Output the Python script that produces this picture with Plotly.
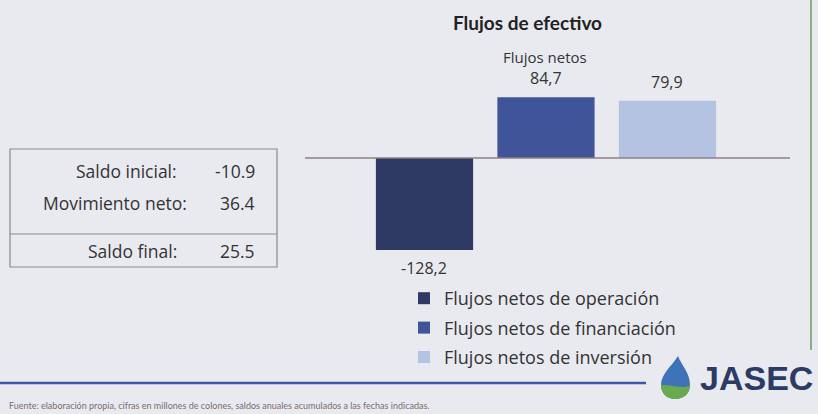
import plotly.graph_objects as go

W, H = 818, 414
BG = "#e9eaf0"
FONT = "'Open Sans', Lato, sans-serif"
TXT = "#333333"

# ---- data ----
categories = ["Flujos netos de operación", "Flujos netos de financiación", "Flujos netos de inversión"]
values = [-128.2, 84.7, 79.9]
colors = ["#2f3a64", "#40549a", "#b4c3e1"]

table_labels = ["Saldo inicial:", "Movimiento neto:", "Saldo final:"]
table_values = ["-10.9", "36.4", "25.5"]

title = "Flujos de efectivo"
subtitle = "Flujos netos"
footer = "Fuente: elaboración propia, cifras en millones de colones, saldos anuales acumulados a las fechas indicadas."
brand = "JASEC"


def px(x):
    return x / W


def py(y):
    return 1 - y / H


fig = go.Figure()
for cat, val, col in zip(categories, values, colors):
    fig.add_trace(go.Bar(
        x=[cat], y=[val], name=cat, marker=dict(color=col, line=dict(width=0)),
        legendgroup=cat, hoverinfo="x+y",
    ))

annotations = []
for cat, val in zip(categories, values):
    txt = f"{val:.1f}".replace(".", ",")
    annotations.append(dict(
        x=cat, y=val, xref="x", yref="y", text=txt, showarrow=False,
        xanchor="center", borderpad=0,
        yanchor="bottom" if val >= 0 else "top", yshift=7 if val >= 0 else -6,
        font=dict(family=FONT, size=16, color=TXT),
    ))


def txt_ann(x, y, text, size, xanchor="center", color=TXT, family=FONT):
    return dict(x=px(x), y=py(y), xref="paper", yref="paper", text=text, showarrow=False,
                xanchor=xanchor, yanchor="middle", borderpad=0,
                font=dict(family=family, size=size, color=color))


annotations.append(txt_ann(527, 22, f"<b>{title}</b>", 19, color="#222222",
                           family="Lato, 'Open Sans', sans-serif"))
annotations.append(txt_ann(545, 57, subtitle, 15))

# table
row_y = [171, 203, 251]
label_right = [178, 188, 178]
for lab, val, yy, lr in zip(table_labels, table_values, row_y, label_right):
    annotations.append(txt_ann(lr, yy, lab, 17.5, xanchor="right"))
    annotations.append(txt_ann(256, yy, val, 17.5, xanchor="right"))

# footer
annotations.append(txt_ann(8, 405, footer, 9, xanchor="left", color="#7a6e6a",
                           family="Lato, 'Open Sans', sans-serif"))
# brand
annotations.append(txt_ann(699, 378, f"<b>{brand}</b>", 34, xanchor="left", color="#2c3a66",
                           family="Liberation Sans, Arial, sans-serif"))

shapes = [
    dict(type="line", xref="paper", yref="y", x0=px(305), x1=px(790), y0=0, y1=0,
         line=dict(color="#8c8183", width=1.5)),
    dict(type="rect", xref="paper", yref="paper", x0=px(10), x1=px(277), y0=py(149), y1=py(267),
         line=dict(color="#8a8a8a", width=1.2), fillcolor="rgba(0,0,0,0)"),
    dict(type="line", xref="paper", yref="paper", x0=px(10), x1=px(277), y0=py(234), y1=py(234),
         line=dict(color="#8a8a8a", width=1.2)),
    dict(type="line", xref="paper", yref="paper", x0=px(811), x1=px(811), y0=py(0), y1=py(350),
         line=dict(color="#6c9a5c", width=1.5)),
    dict(type="line", xref="paper", yref="paper", x0=px(0), x1=px(646), y0=py(383), y1=py(383),
         line=dict(color="#3b58a5", width=2.5)),
]


def pth(points):
    s = ""
    for cmd, pts in points:
        s += cmd + " " + " ".join(f"{px(x):.5f},{py(y):.5f}" for x, y in pts) + " "
    return s + "Z"


drop = pth([("M", [(678, 356)]),
            ("C", [(671, 367), (661, 374), (661, 385)]),
            ("C", [(661, 394), (668, 399), (675, 399)]),
            ("C", [(683, 399), (690, 394), (690, 385)]),
            ("C", [(690, 373), (682, 366), (678, 356)])])
shapes.append(dict(type="path", xref="paper", yref="paper", path=drop,
                   fillcolor="#3f73b8", line=dict(width=0)))
green = pth([("M", [(661, 385)]),
             ("C", [(661, 394), (668, 399), (675, 399)]),
             ("C", [(683, 399), (690, 394), (690, 385)]),
             ("C", [(684, 390), (670, 384), (661, 385)])])
shapes.append(dict(type="path", xref="paper", yref="paper", path=green,
                   fillcolor="#6aaa4e", line=dict(width=0)))
bolt = pth([("M", [(679, 371)]), ("L", [(670, 384), (675, 384), (672, 394), (682, 380), (677, 380), (679, 371)])])
shapes.append(dict(type="path", xref="paper", yref="paper", path=bolt,
                   fillcolor="#ffffff", line=dict(width=0)))

fig.update_layout(
    width=W, height=H,
    margin=dict(l=0, r=0, t=0, b=0),
    paper_bgcolor=BG, plot_bgcolor=BG,
    barmode="overlay", bargap=0.2,
    showlegend=True,
    legend=dict(x=px(404), y=py(280), xanchor="left", yanchor="top", bgcolor="rgba(0,0,0,0)",
                font=dict(family=FONT, size=18, color=TXT), tracegroupgap=3, traceorder="grouped",
                itemwidth=30),
    xaxis=dict(type="category", categoryorder="array", categoryarray=categories,
               range=[-3.494, 3.239], showgrid=False, zeroline=False, showticklabels=False,
               showline=False, fixedrange=True),
    yaxis=dict(range=[-357.0, 220.4], showgrid=False, zeroline=False, showticklabels=False,
               showline=False, fixedrange=True),
    annotations=annotations,
    shapes=shapes,
)

fig.write_html(
    "out.html",
    config={"displayModeBar": False},
    post_script="document.body.style.margin='0';document.body.style.background='#e9eaf0';",
)
